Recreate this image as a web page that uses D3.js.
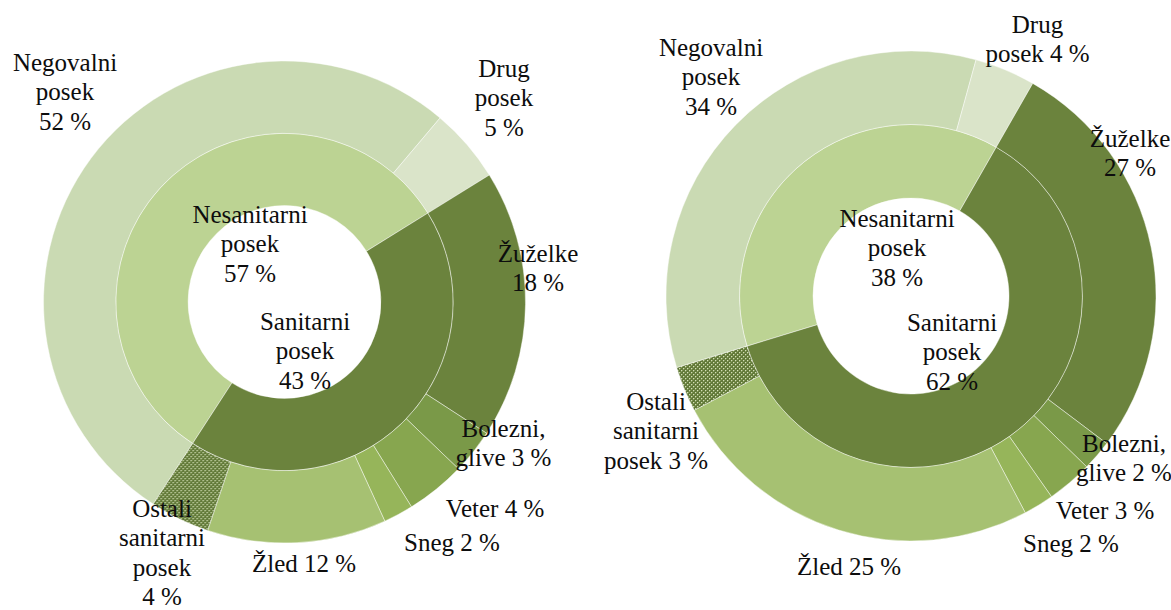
<!DOCTYPE html>
<html>
<head>
<meta charset="utf-8">
<script src="https://cdn.jsdelivr.net/npm/d3@7"></script>
<style>
  html, body { margin: 0; padding: 0; background: #ffffff; }
  svg { display: block; }
</style>
</head>
<body>
<svg id="chart" width="1171" height="610"></svg>
<script>
// Inner ring: type of felling; outer ring: reason for felling
const innerCategories = ["Nesanitarni posek", "Sanitarni posek"];
const outerCategories = ["Negovalni posek", "Drug posek", "Žuželke", "Bolezni, glive",
                         "Veter", "Sneg", "Žled", "Ostali sanitarni posek"];

// First doughnut
const innerValuesA = [57, 43];
const outerValuesA = [52, 5, 18, 3, 4, 2, 12, 4];

// Second doughnut
const innerValuesB = [38, 62];
const outerValuesB = [34, 4, 27, 2, 3, 2, 25, 3];

// Label line breaks (value appended to last line or placed on its own line)
const innerLabelLines = [["Nesanitarni", "posek"], ["Sanitarni", "posek"]];
const outerLabelLines = [["Negovalni", "posek"], ["Drug", "posek"], ["Žuželke"], ["Bolezni,", "glive"],
                         ["Veter"], ["Sneg"], ["Žled"], ["Ostali", "sanitarni", "posek"]];
const outerInlineA = [false, false, false, true, true, true, true, false];
const outerInlineB = [false, true, false, true, true, true, true, true];

// Colours
const innerColors = ["#bcd393", "#6b833d"];
const outerColors = ["#cadab3", "#dae4c9", "#6b833d", "#7a9948", "#87a64f", "#96b55a", "#a6c172", "url(#dots)"];

// Geometry and label placement (offsets from each chart's centre, first baseline)
const charts = [
  {
    cx: 284.5, cy: 302, r: 241, startDeg: 213,
    inner: innerValuesA, outer: outerValuesA, outerInline: outerInlineA,
    innerLabelPos: [[-34.5, -79], [20.5, 28]],
    outerLabelPos: [[-219.5, -231], [219.5, -225], [253.5, -40], [219, 135],
                    [210.5, 215], [167.5, 249], [19.5, 270], [-122.5, 215]]
  },
  {
    cx: 911, cy: 296, r: 245, startDeg: 253,
    inner: innerValuesB, outer: outerValuesB, outerInline: outerInlineB,
    innerLabelPos: [[-14, -69], [41, 35]],
    outerLabelPos: [[-200, -240], [126.5, -263], [219, -149], [213, 156],
                    [194, 223], [160, 256], [-62, 279], [-255, 114]]
  }
];

const lineHeight = 29.3;
const fontFamily = "'Liberation Serif', 'DejaVu Serif', 'Times New Roman', serif";
const svg = d3.select("#chart");

// Dotted fill for "Ostali sanitarni posek"
const pat = svg.append("defs").append("pattern")
  .attr("id", "dots").attr("patternUnits", "userSpaceOnUse")
  .attr("width", 4).attr("height", 4);
pat.append("rect").attr("width", 4).attr("height", 4).attr("fill", "#62793a");
[[0, 0], [2, 2]].forEach(([x, y]) => {
  pat.append("rect").attr("x", x).attr("y", y).attr("width", 1).attr("height", 1).attr("fill", "#d2ddb8");
});
[[1, 0], [0, 1], [3, 2], [2, 3]].forEach(([x, y]) => {
  pat.append("rect").attr("x", x).attr("y", y).attr("width", 1).attr("height", 1).attr("fill", "#8aa05e");
});

function drawLabel(g, lines, value, inline, pos) {
  const all = lines.slice();
  const valueText = value + " %";
  if (inline) all[all.length - 1] = all[all.length - 1] + " " + valueText;
  else all.push(valueText);
  const t = g.append("text")
    .attr("text-anchor", "middle")
    .attr("font-family", fontFamily)
    .attr("font-size", 25)
    .attr("fill", "#0d0d0d")
    .attr("x", pos[0]).attr("y", pos[1]);
  all.forEach((line, i) => {
    t.append("tspan").attr("x", pos[0]).attr("dy", i === 0 ? 0 : lineHeight).text(line);
  });
}

charts.forEach(c => {
  const start = c.startDeg * Math.PI / 180;
  const pie = d3.pie().sort(null).value(d => d).startAngle(start).endAngle(start + 2 * Math.PI);
  const innerArc = d3.arc().innerRadius(c.r * 0.4).outerRadius(c.r * 0.7);
  const outerArc = d3.arc().innerRadius(c.r * 0.7).outerRadius(c.r);

  const g = svg.append("g").attr("transform", `translate(${c.cx},${c.cy})`);

  g.append("g").selectAll("path")
    .data(pie(c.inner))
    .join("path")
    .attr("d", innerArc)
    .attr("fill", (d, i) => innerColors[i])
    .attr("stroke", "rgba(255,255,255,0.55)")
    .attr("stroke-width", 0.8);

  g.append("g").selectAll("path")
    .data(pie(c.outer))
    .join("path")
    .attr("d", outerArc)
    .attr("fill", (d, i) => outerColors[i])
    .attr("stroke", "rgba(255,255,255,0.55)")
    .attr("stroke-width", 0.8);

  const labels = g.append("g");
  c.inner.forEach((v, i) => drawLabel(labels, innerLabelLines[i], v, false, c.innerLabelPos[i]));
  c.outer.forEach((v, i) => drawLabel(labels, outerLabelLines[i], v, c.outerInline[i], c.outerLabelPos[i]));
});
</script>
</body>
</html>
